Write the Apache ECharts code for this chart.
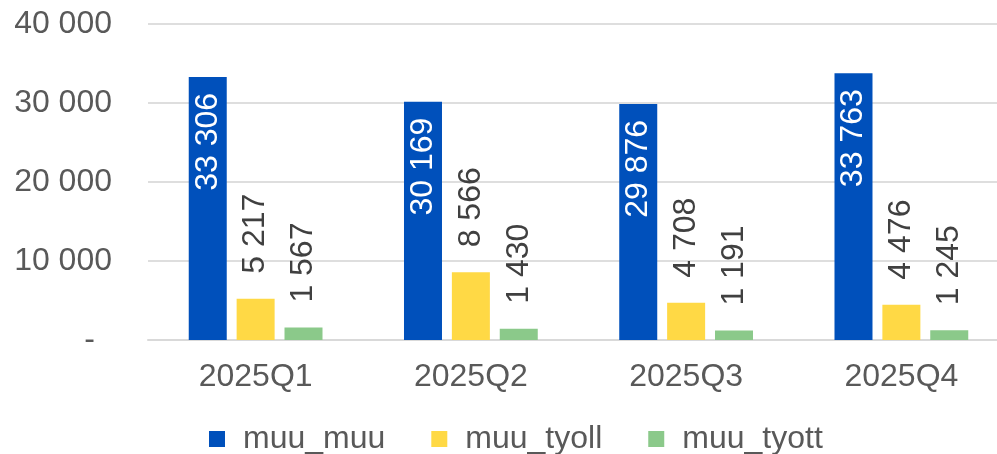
<!DOCTYPE html>
<html>
<head>
<meta charset="utf-8">
<script src="https://cdn.jsdelivr.net/npm/echarts@6/dist/echarts.min.js"></script>
<style>
html,body{margin:0;padding:0;background:#fff;overflow:hidden;width:997px;height:454px;}
#chart{width:1009px;height:454px;}
</style>
</head>
<body>
<div id="chart"></div>
<script>
const categories = ['2025Q1', '2025Q2', '2025Q3', '2025Q4'];
const muuMuu = [33306, 30169, 29876, 33763];
const muuTyoll = [5217, 8566, 4708, 4476];
const muuTyott = [1567, 1430, 1191, 1245];
const seriesNames = ['muu_muu', 'muu_tyoll', 'muu_tyott'];
const yTicks = [0, 10000, 20000, 30000, 40000];

const FONT = '"Liberation Sans", Arial, sans-serif';
const FS = 32;

function fmt(v) {
  return String(Math.round(v)).replace(/\B(?=(\d{3})+(?!\d))/g, ' ');
}

const chart = echarts.init(document.getElementById('chart'), null, {renderer: 'canvas'});

const outsideLabel = {
  show: true,
  position: 'top',
  rotate: 90,
  align: 'left',
  verticalAlign: 'middle',
  distance: 25,
  color: '#404040',
  fontFamily: FONT,
  fontSize: FS,
  formatter: p => fmt(p.value)
};

chart.setOption({
  animation: false,
  backgroundColor: '#ffffff',
  textStyle: {fontFamily: FONT},
  grid: {left: 148, top: 24, right: 0, height: 316, containLabel: false},
  legend: {
    data: seriesNames,
    left: 204,
    top: 418,
    icon: 'rect',
    itemWidth: 16,
    itemHeight: 16,
    itemGap: 46,
    textStyle: {color: '#595959', fontSize: FS, fontFamily: FONT, padding: [0, 0, 0, 13]}
  },
  xAxis: {
    type: 'category',
    data: categories,
    axisLine: {show: true, lineStyle: {color: '#d9d9d9', width: 2}},
    axisTick: {show: false},
    axisLabel: {color: '#595959', fontSize: FS, fontFamily: FONT, margin: 21}
  },
  yAxis: {
    type: 'value',
    min: yTicks[0],
    max: yTicks[yTicks.length - 1],
    interval: yTicks[1] - yTicks[0],
    axisLine: {show: false},
    axisTick: {show: false},
    splitLine: {lineStyle: {color: '#dedede', width: 2}},
    axisLabel: {
      color: '#595959', fontSize: FS, fontFamily: FONT, margin: 36,
      formatter: v => v === 0 ? '{d|-}' : fmt(v),
      rich: {d: {color: '#595959', fontSize: FS, fontFamily: FONT, padding: [0, 17, 0, 0]}}
    }
  },
  series: [
    {
      name: seriesNames[0], type: 'bar', data: muuMuu,
      barWidth: 38, barGap: '26%',
      itemStyle: {color: '#0050BB'},
      label: {
        show: true, position: 'insideTop', rotate: 90, align: 'right', verticalAlign: 'middle',
        distance: 16, color: '#ffffff', fontFamily: FONT, fontSize: FS,
        formatter: p => fmt(p.value)
      }
    },
    {
      name: seriesNames[1], type: 'bar', data: muuTyoll,
      barWidth: 38, barGap: '26%',
      itemStyle: {color: '#FFD945'},
      label: outsideLabel
    },
    {
      name: seriesNames[2], type: 'bar', data: muuTyott,
      barWidth: 38, barGap: '26%',
      itemStyle: {color: '#8BC98A'},
      label: outsideLabel
    }
  ]
});
</script>
</body>
</html>
